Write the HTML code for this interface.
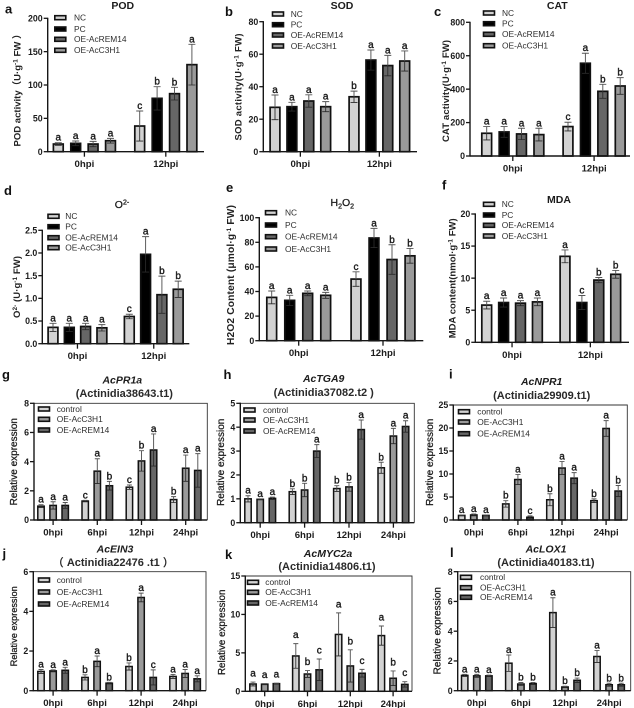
<!DOCTYPE html>
<html lang="en">
<head>
<meta charset="utf-8">
<title>Physiological and gene expression bar charts</title>
<style>
html,body{margin:0;padding:0;background:#fff;width:634px;height:708px;overflow:hidden}
svg{display:block;filter:blur(.3px)}
text{font-family:"Liberation Sans","Noto Sans CJK SC",sans-serif;fill:#1c1c1c}
.panel-letter{font-size:13px;font-weight:700;fill:#111}
.title{font-size:10.5px;font-weight:700;text-anchor:middle}
.title-med{font-size:10.5px;text-anchor:middle;stroke:#222;stroke-width:.3}
.gene{font-size:10.5px;font-weight:700;font-style:italic;text-anchor:middle}
.acc{font-size:11px;font-weight:700;text-anchor:middle;fill:#2a2a2a}
.ytitle{font-size:9.5px;font-weight:700;text-anchor:middle;fill:#222}
.ytitle-exp{font-size:10px;text-anchor:middle;stroke:#222;stroke-width:.28}
.ytick{font-size:8.8px;font-weight:700;text-anchor:end}
.xtick{font-size:9.6px;font-weight:700;text-anchor:middle}
.sig{font-size:10px;text-anchor:middle;stroke:#1c1c1c;stroke-width:.38}
.legend-label{font-size:8.4px;fill:#2e2e2e}
</style>
</head>
<body>
<svg id="figure" xmlns="http://www.w3.org/2000/svg" width="634" height="708" viewBox="0 0 634 708">
  <text class="panel-letter" x="5" y="13.5">a</text>
  <text class="panel-letter" x="225" y="16">b</text>
  <text class="panel-letter" x="434" y="16">c</text>
  <text class="panel-letter" x="4" y="195">d</text>
  <text class="panel-letter" x="226" y="192">e</text>
  <text class="panel-letter" x="442" y="189.5">f</text>
  <text class="panel-letter" x="2" y="379">g</text>
  <text class="panel-letter" x="223.5" y="379">h</text>
  <text class="panel-letter" x="449" y="378.5">i</text>
  <text class="panel-letter" x="2.5" y="558">j</text>
  <text class="panel-letter" x="225" y="559">k</text>
  <text class="panel-letter" x="450" y="557">l</text>

  <text class="title" x="122.7" y="9">POD</text>
  <text class="title" x="342" y="9">SOD</text>
  <text class="title" x="557.3" y="9">CAT</text>
  <text class="title-med" x="122" y="208">O<tspan dy="-3.5" font-size="7">2-</tspan></text>
  <text class="title-med" x="342.3" y="206">H<tspan dy="2.5" font-size="7">2</tspan><tspan dy="-2.5">O</tspan><tspan dy="2.5" font-size="7">2</tspan></text>
  <text class="title" x="559" y="203">MDA</text>

  <text class="gene" x="122.3" y="383.5">AcPR1a</text>
  <text class="acc" x="124.3" y="397">(Actinidia38643.t1)</text>
  <text class="gene" x="323.7" y="382">AcTGA9</text>
  <text class="acc" x="323.7" y="396">(Actinidia37082.t2 )</text>
  <text class="gene" x="541.7" y="385">AcNPR1</text>
  <text class="acc" x="541.7" y="399">(Actinidia29909.t1)</text>
  <text class="gene" x="115" y="552.5">AcEIN3</text>
  <text class="acc" x="113.3" y="566">（ Actinidia22476 .t1 ）</text>
  <text class="gene" x="328" y="557">AcMYC2a</text>
  <text class="acc" x="327" y="570">(Actinidia14806.t1)</text>
  <text class="gene" x="546" y="552.5">AcLOX1</text>
  <text class="acc" x="546" y="566">(Actinidia40183.t1)</text>

  <text class="ytitle" transform="translate(20.5,88) rotate(-90)" textLength="117">POD activity（U·g<tspan dy="-3" font-size="6.5">-1</tspan><tspan dy="3"> FW ）</tspan></text>
  <text class="ytitle" transform="translate(241.5,87) rotate(-90)" textLength="107">SOD activity(U·g<tspan dy="-3" font-size="6.5">-1</tspan><tspan dy="3"> FW)</tspan></text>
  <text class="ytitle" transform="translate(449,91) rotate(-90)" textLength="102">CAT activity(U·g<tspan dy="-3" font-size="6.5">-1</tspan><tspan dy="3"> FW)</tspan></text>
  <text class="ytitle" transform="translate(20,287) rotate(-90)" textLength="62">O<tspan dy="-3" font-size="6.5">2-</tspan><tspan dy="3"> (U·g</tspan><tspan dy="-3" font-size="6.5">-1</tspan><tspan dy="3"> FW)</tspan></text>
  <text class="ytitle" transform="translate(234,275) rotate(-90)" style="font-size:10.2px" textLength="140">H2O2 Content (μmol·g<tspan dy="-3" font-size="6.5">-1</tspan><tspan dy="3"> FW)</tspan></text>
  <text class="ytitle" transform="translate(455.5,278.3) rotate(-90)" textLength="120">MDA content(nmol·g<tspan dy="-3" font-size="6.5">-1</tspan><tspan dy="3"> FW)</tspan></text>
  <text class="ytitle-exp" transform="translate(17,461.7) rotate(-90)">Relative expression</text>
  <text class="ytitle-exp" transform="translate(224,462.3) rotate(-90)">Relative expression</text>
  <text class="ytitle-exp" transform="translate(433,462.3) rotate(-90)">Relative expression</text>
  <text class="ytitle-exp" transform="translate(17,626.3) rotate(-90)" style="font-size:9.2px">Relative expression</text>
  <text class="ytitle-exp" transform="translate(225,632.3) rotate(-90)" style="font-size:9.8px">Relative expression</text>
  <text class="ytitle-exp" transform="translate(440.5,630.7) rotate(-90)">Relative expression</text>
</svg>

<script>
// ---- categories and legend labels ----
const twoTimes = ['0hpi', '12hpi'];
const fourTimes = ['0hpi', '6hpi', '12hpi', '24hpi'];
const enzymeSeries = ['NC', 'PC', 'OE-AcREM14', 'OE-AcC3H1'];
const geneSeries = ['control', 'OE-AcC3H1', 'OE-AcREM14'];

// ---- panel a: POD ----
const aTicks = [0, 50, 100, 150, 200];
const aValues = [[11.5, 12.5, 11.5, 16.5], [38.5, 80, 87, 130.5]];
const aErrors = [[2, 3.5, 4, 3.5], [22.5, 17.5, 9.5, 30.5]];
const aLetters = [['a', 'a', 'a', 'a'], ['c', 'b', 'b', 'a']];

// ---- panel b: SOD ----
const bTicks = [0, 20, 40, 60, 80];
const bValues = [[27.3, 27.7, 31.2, 27.7], [33.8, 56.4, 53, 55.8]];
const bErrors = [[7.6, 2.7, 3.8, 3.1], [3.5, 6.2, 6.3, 6.2]];
const bLetters = [['a', 'a', 'a', 'a'], ['b', 'a', 'a', 'a']];

// ---- panel c: CAT ----
const cTicks = [0, 200, 400, 600, 800];
const cValues = [[136, 144, 132, 128], [176, 555, 387, 419]];
const cErrors = [[40, 32, 34, 38], [26, 60, 42, 50]];
const cLetters = [['a', 'a', 'a', 'a'], ['c', 'a', 'b', 'b']];

// ---- panel d: superoxide ----
const dTicks = [0.0, 0.5, 1.0, 1.5, 2.0, 2.5];
const dValues = [[0.36, 0.36, 0.38, 0.35], [0.60, 1.97, 1.08, 1.2]];
const dErrors = [[0.09, 0.09, 0.07, 0.07], [0.05, 0.39, 0.41, 0.18]];
const dLetters = [['a', 'a', 'a', 'a'], ['c', 'a', 'b', 'b']];

// ---- panel e: H2O2 ----
const eTicks = [0, 20, 40, 60, 80, 100];
const eValues = [[35.2, 32.8, 38.5, 36.9], [50.1, 83.5, 66, 69]];
const eErrors = [[5.2, 4.1, 1.9, 2.4], [5.9, 7.8, 12, 6]];
const eLetters = [['a', 'a', 'a', 'a'], ['c', 'a', 'b', 'b']];

// ---- panel f: MDA ----
const fTicks = [0, 5, 10, 15, 20];
const fValues = [[5.8, 6.2, 6.1, 6.3], [13.4, 6.2, 9.7, 10.6]];
const fErrors = [[0.6, 0.7, 0.4, 0.6], [1, 1.1, 0.4, 0.6]];
const fLetters = [['a', 'a', 'a', 'a'], ['a', 'c', 'b', 'b']];

// ---- panel g: AcPR1a ----
const gTicks = [0, 2, 4, 6, 8];
const gValues = [[0.95, 1, 1], [1.3, 3.35, 2.35], [2.25, 4.05, 4.8], [1.4, 3.55, 3.4]];
const gErrors = [[0.1, 0.25, 0.2], [0.05, 0.85, 0.3], [0.15, 0.7, 1.1], [0.2, 0.9, 1.15]];
const gLetters = [['a', 'a', 'a'], ['c', 'a', 'b'], ['c', 'b', 'a'], ['b', 'a', 'a']];

// ---- panel h: AcTGA9 ----
const hTicks = [0, 1, 2, 3, 4, 5];
const hValues = [[1, 0.98, 1.02], [1.3, 1.37, 3], [1.43, 1.5, 3.9], [2.3, 3.63, 4.03]];
const hErrors = [[0.13, 0.02, 0.05], [0.12, 0.28, 0.27], [0.12, 0.18, 0.4], [0.23, 0.32, 0.24]];
const hLetters = [['a', 'a', 'a'], ['b', 'b', 'a'], ['b', 'b', 'a'], ['b', 'a', 'a']];

// ---- panel i: AcNPR1 ----
const iTicks = [0, 5, 10, 15, 20, 25];
const iValues = [[1, 1.1, 1], [3.5, 8.8, 0.6], [4.4, 11.3, 9.1], [4.2, 19.9, 6.3]];
const iErrors = [[0.1, 0.2, 0.1], [0.7, 1.1, 0.3], [1.3, 1.4, 1.2], [0.4, 1.7, 1.2]];
const iLetters = [['a', 'a', 'a'], ['b', 'a', 'c'], ['b', 'a', 'a'], ['b', 'a', 'b']];

// ---- panel j: AcEIN3 ----
const jTicks = [0, 2, 4, 6];
const jValues = [[0.97, 1, 1.03], [0.67, 1.48, 0.38], [1.22, 4.7, 0.67], [0.72, 0.87, 0.6]];
const jErrors = [[0.1, 0.05, 0.15], [0.13, 0.27, 0.04], [0.18, 0.22, 0.38], [0.1, 0.2, 0.15]];
const jLetters = [['a', 'a', 'a'], ['b', 'a', 'b'], ['b', 'a', 'c'], ['a', 'a', 'a']];

// ---- panel k: AcMYC2a ----
const kTicks = [0, 5, 10, 15];
const kValues = [[0.95, 0.93, 1], [4.6, 2.25, 2.8], [7.4, 3.3, 2.35], [7.25, 1.7, 0.9]];
const kErrors = [[0.25, 0.07, 0.05], [1.6, 0.45, 1.4], [2.8, 2.1, 0.5], [1.25, 0.95, 0.35]];
const kLetters = [['a', 'a', 'a'], ['a', 'b', 'c'], ['a', 'b', 'c'], ['a', 'b', 'c']];

// ---- panel l: AcLOX1 ----
const lTicks = [0, 2, 4, 6, 8];
const lValues = [[1.03, 1, 1], [1.85, 0.45, 0.48], [5.25, 0.25, 0.7], [2.3, 0.4, 0.4]];
const lErrors = [[0.07, 0.1, 0.05], [0.55, 0.1, 0.07], [1, 0.05, 0.15], [0.4, 0.1, 0.1]];
const lLetters = [['a', 'a', 'a'], ['a', 'b', 'b'], ['a', 'b', 'b'], ['a', 'b', 'b']];

// ---- styling and layout (not data) ----
const enzymeFills = ['#d2d2d2', '#000000', '#666666', '#9a9a9a'];
const geneFills = ['#d2d2d2', '#9a9a9a', '#666666'];

const panels = [
  {id:'a', cats:twoTimes, series:enzymeSeries, fills:enzymeFills, ticks:aTicks, values:aValues, errors:aErrors, letters:aLetters,
   L:47.7, R:204, T:18.3, B:151.7, first:58.3, barStep:17.4, groupStep:81.4, lx:54.8, ltx:74, lys:[17.7,29,39.3,50.3]},
  {id:'b', cats:twoTimes, series:enzymeSeries, fills:enzymeFills, ticks:bTicks, values:bValues, errors:bErrors, letters:bLetters,
   L:263.3, R:417, T:21.7, B:151.7, first:275, barStep:16.9, groupStep:79, lx:272.5, ltx:290.7, lys:[14,24.7,35,46]},
  {id:'c', cats:twoTimes, series:enzymeSeries, fills:enzymeFills, ticks:cTicks, values:cValues, errors:cErrors, letters:cLetters,
   L:470, R:630, T:22.3, B:156, first:486.7, barStep:17.4, groupStep:81.3, lx:483.5, ltx:502, lys:[13,23.7,34.3,45.7]},
  {id:'d', cats:twoTimes, series:enzymeSeries, fills:enzymeFills, ticks:dTicks, values:dValues, errors:dErrors, letters:dLetters, tickFixed:1,
   L:42.3, R:189.3, T:230.3, B:343.7, first:53, barStep:16.3, groupStep:76.3, lx:48, ltx:65.3, lys:[216.3,226.7,237.7,247.7]},
  {id:'e', cats:twoTimes, series:enzymeSeries, fills:enzymeFills, ticks:eTicks, values:eValues, errors:eErrors, letters:eLetters,
   L:259.3, R:423.3, T:217.7, B:340.7, first:271.7, barStep:18, groupStep:84.3, lx:265.5, ltx:285, lys:[212.7,225,236.7,249]},
  {id:'f', cats:twoTimes, series:enzymeSeries, fills:enzymeFills, ticks:fTicks, values:fValues, errors:fErrors, letters:fLetters,
   L:475.3, R:629, T:214, B:342.3, first:486.7, barStep:16.9, groupStep:78.3, lx:483.5, ltx:501.7, lys:[204.3,215,225.3,236]},
  {id:'g', cats:fourTimes, series:geneSeries, fills:geneFills, ticks:gTicks, values:gValues, errors:gErrors, letters:gLetters, frame:true,
   L:34, R:207.3, T:403.3, B:520, first:41, barStep:12.1, groupStep:44.2, lx:38.5, ltx:56.7, lys:[409,419.3,430]},
  {id:'h', cats:fourTimes, series:geneSeries, fills:geneFills, ticks:hTicks, values:hValues, errors:hErrors, letters:hLetters, frame:true,
   L:240.3, R:414.3, T:403.3, B:522.7, first:248, barStep:12.2, groupStep:44.4, lx:244, ltx:263, lys:[410,420,431]},
  {id:'i', cats:fourTimes, series:geneSeries, fills:geneFills, ticks:iTicks, values:iValues, errors:iErrors, letters:iLetters, frame:true,
   L:453.3, R:627.3, T:405, B:520, first:461.7, barStep:12.1, groupStep:44.1, lx:458.5, ltx:477.3, lys:[411.7,422,433.7]},
  {id:'j', cats:fourTimes, series:geneSeries, fills:geneFills, ticks:jTicks, values:jValues, errors:jErrors, letters:jLetters, frame:true,
   L:33.3, R:206, T:571.7, B:690.7, first:41, barStep:12.1, groupStep:44, lx:38.5, ltx:56.7, lys:[580,592,604]},
  {id:'k', cats:fourTimes, series:geneSeries, fills:geneFills, ticks:kTicks, values:kValues, errors:kErrors, letters:kLetters, frame:true, letterGap:5.5,
   L:245.3, R:412, T:576, B:691.3, first:253, barStep:11.7, groupStep:42.8, lx:247.5, ltx:265.3, lys:[582.3,592.3,603]},
  {id:'l', cats:fourTimes, series:geneSeries, fills:geneFills, ticks:lTicks, values:lValues, errors:lErrors, letters:lLetters, frame:true,
   L:457.7, R:630.7, T:571.7, B:690.7, first:464.7, barStep:12.1, groupStep:44.1, lx:460.5, ltx:480, lys:[577.3,587.7,597.3]}
];

// ---- drawing ----
const NS = 'http://www.w3.org/2000/svg';
const AXIS = '#161616';
const figure = document.getElementById('figure');

function make(tag, parent, geometry) {
  const el = document.createElementNS(NS, tag);
  for (const key in geometry) el.setAttribute(key, geometry[key]);
  parent.appendChild(el);
  return el;
}

function line(parent, x1, y1, x2, y2, stroke, width) {
  return make('line', parent, {x1, y1, x2, y2, stroke, 'stroke-width': width});
}

function drawPanel(p) {
  const gap = p.letterGap === undefined ? 2 : p.letterGap;
  const frameMode = !!p.frame;
  const barW = frameMode ? 6.4 : 9.8;
  const capW = frameMode ? 5 : 7;
  const yMax = p.ticks[p.ticks.length - 1];
  const yScale = v => p.B - (v / yMax) * (p.B - p.T);
  const xBar = (c, s) => p.first + c * p.groupStep + s * p.barStep;
  const xCat = c => p.first + c * p.groupStep + (p.series.length - 1) / 2 * p.barStep;

  const panel = make('g', figure, {});
  
  

  if (frameMode) {
    const frame = make('path', panel, {d: 'M' + p.L + ' ' + p.T + 'H' + p.R + 'V' + p.B, fill: 'none', stroke: '#333', 'stroke-width': 0.9});
    
    
  }

  p.values.forEach((group, c) => {
    group.forEach((value, s) => {
      const cx = xBar(c, s);
      const top = yScale(value);
      const bar = make('rect', panel, {x: cx - barW / 2, y: top, width: barW, height: p.B - top, fill: p.fills[s], stroke: '#111', 'stroke-width': frameMode ? 1.5 : 1.7});
      
      

      const err = p.errors[c][s];
      const hi = yScale(value + err);
      const lo = yScale(Math.max(0, value - err));

      const upper = make('path', panel, {
        d: 'M' + cx + ' ' + top + 'V' + hi + 'M' + (cx - capW / 2) + ' ' + hi + 'H' + (cx + capW / 2),
        fill: 'none', stroke: '#555', 'stroke-width': 0.95
      });
      
      

      const lower = make('path', panel, {
        d: 'M' + cx + ' ' + top + 'V' + lo + 'M' + (cx - capW / 2) + ' ' + lo + 'H' + (cx + capW / 2),
        fill: 'none', stroke: '#2a2a2a', 'stroke-width': 0.85
      });
      
      

      const letter = make('text', panel, {class: 'sig', x: cx, y: hi - gap});
      letter.textContent = p.letters[c][s];
      
      
    });
  });

  const yAxis = line(panel, p.L, p.T - 0.6, p.L, p.B + 0.6, AXIS, 1.4);
  
  

  const xAxis = line(panel, p.L, p.B, p.R, p.B, AXIS, 1.4);
  
  

  p.ticks.forEach(t => {
    const y = yScale(t);
    const tick = line(panel, p.L - 4, y, p.L, y, AXIS, 1.3);
    
    
    const label = make('text', panel, {class: 'ytick', x: p.L - 5, y: y + 3.1});
    label.textContent = p.tickFixed ? t.toFixed(p.tickFixed) : String(t);
    
    
  });

  p.cats.forEach((cat, c) => {
    const x = xCat(c);
    const tick = line(panel, x, p.B, x, p.B + 5, AXIS, 1.3);
    
    
    const label = make('text', panel, {class: 'xtick', x: x, y: p.B + 15.5});
    label.textContent = cat;
    
    
  });

  p.series.forEach((name, s) => {
    const entry = make('g', panel, {});
    
    
    const swatch = make('rect', entry, {x: p.lx, y: p.lys[s] - 2, width: 11, height: 4, fill: p.fills[s], stroke: '#111', 'stroke-width': 1.6});
    
    
    const text = make('text', entry, {class: 'legend-label', x: p.ltx, y: p.lys[s] + 2.9});
    text.textContent = name;
    
    
  });
}

panels.forEach(drawPanel);
</script>
</body>
</html>
